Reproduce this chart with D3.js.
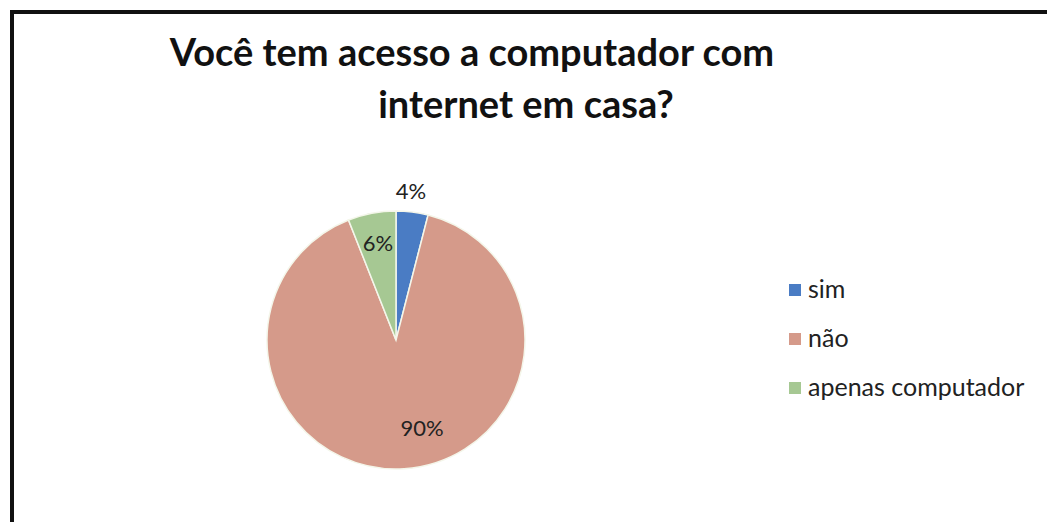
<!DOCTYPE html>
<html>
<head>
<meta charset="utf-8">
<script src="https://cdn.jsdelivr.net/npm/d3@7"></script>
<style>
  body { margin: 0; background: #fff; }
  text { font-family: Lato, "Open Sans", sans-serif; }
</style>
</head>
<body>
<div id="chart"></div>
<script>
// data
var categories = ["sim", "não", "apenas computador"];
var values = [4, 90, 6];
var labels = ["4%", "90%", "6%"];
var titleLines = ["Você tem acesso a computador com", "internet em casa?"];
var colors = ["#4a7cc4", "#d59a8a", "#a6c893"];

var width = 1047, height = 522;

var svg = d3.select("#chart").append("svg")
  .attr("width", width)
  .attr("height", height);

// frame (cut at right and bottom like the scan)
svg.append("rect")
  .attr("x", 12).attr("y", 12)
  .attr("width", width + 20).attr("height", height + 20)
  .attr("fill", "none")
  .attr("stroke", "#111")
  .attr("stroke-width", 4);

// title
var titleX = [472, 526], titleY = [66, 118];
svg.selectAll(".title")
  .data(titleLines)
  .enter().append("text")
  .attr("class", "title")
  .attr("x", function(d, i) { return titleX[i]; })
  .attr("y", function(d, i) { return titleY[i]; })
  .attr("text-anchor", "middle")
  .attr("font-size", 38)
  .attr("font-weight", "bold")
  .attr("fill", "#111")
  .text(function(d) { return d; });

// pie
var cx = 396, cy = 340, r = 129;
var pie = d3.pie().sort(null).value(function(d) { return d; });
var arc = d3.arc().innerRadius(0).outerRadius(r);
var arcs = pie(values);

var g = svg.append("g")
  .attr("transform", "translate(" + cx + "," + cy + ")");

g.selectAll("path")
  .data(arcs)
  .enter().append("path")
  .attr("d", arc)
  .attr("fill", function(d, i) { return colors[i]; })
  .attr("stroke", "#f4f6ea")
  .attr("stroke-width", 1.5);

// data labels
var labelPos = [[15, -141], [26, 96], [-18, -89]];
g.selectAll(".lbl")
  .data(arcs)
  .enter().append("text")
  .attr("class", "lbl")
  .attr("x", function(d, i) { return labelPos[i][0]; })
  .attr("y", function(d, i) { return labelPos[i][1]; })
  .attr("text-anchor", "middle")
  .attr("font-size", 22)
  .attr("fill", "#222")
  .text(function(d, i) { return labels[i]; });

// legend
var legend = svg.selectAll(".legend")
  .data(categories)
  .enter().append("g")
  .attr("class", "legend")
  .attr("transform", function(d, i) { return "translate(789," + (290 + i * 49) + ")"; });

legend.append("rect")
  .attr("x", 0).attr("y", -6)
  .attr("width", 12).attr("height", 12)
  .attr("fill", function(d, i) { return colors[i]; });

legend.append("text")
  .attr("x", 19)
  .attr("y", 8)
  .attr("font-size", 25)
  .attr("fill", "#222")
  .text(function(d) { return d; });
</script>
</body>
</html>
